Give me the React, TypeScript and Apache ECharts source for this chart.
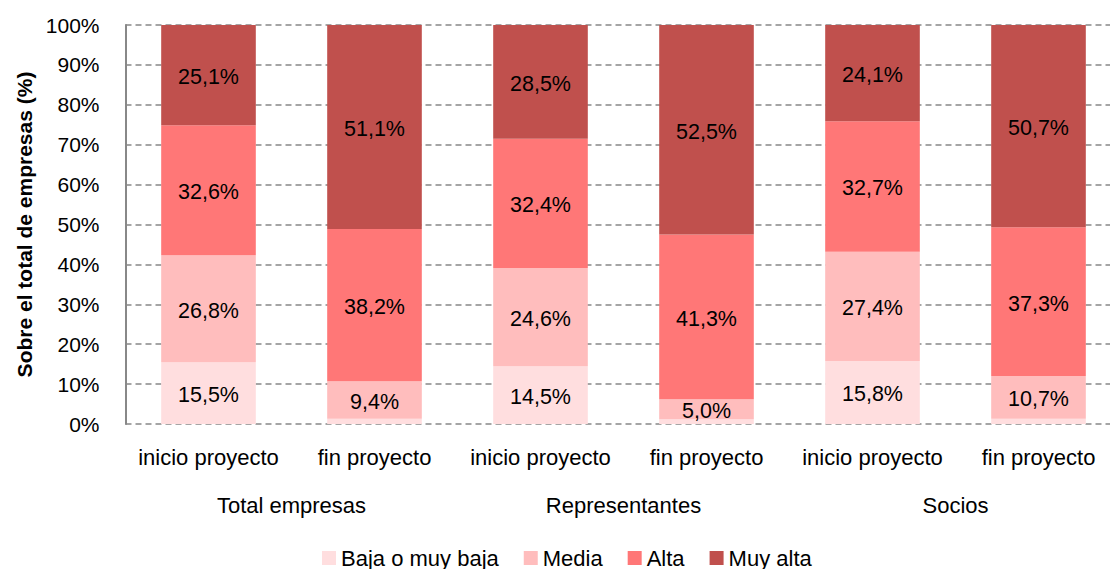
import React, { useEffect, useRef } from "react";
import * as echarts from "echarts";

const categories = ["inicio proyecto", "fin proyecto", "inicio proyecto", "fin proyecto", "inicio proyecto", "fin proyecto"];
const groups = ["Total empresas", "Representantes", "Socios"];
const bajaValues = [15.5, 1.3, 14.5, 1.2, 15.8, 1.3];
const mediaValues = [26.8, 9.4, 24.6, 5.0, 27.4, 10.7];
const altaValues = [32.6, 38.2, 32.4, 41.3, 32.7, 37.3];
const muyAltaValues = [25.1, 51.1, 28.5, 52.5, 24.1, 50.7];
const seriesNames = ["Baja o muy baja", "Media", "Alta", "Muy alta"];
const colors = ["#FFDEDF", "#FFBDBD", "#FF7777", "#C0504D"];

const FONT = "'Liberation Sans', Arial, sans-serif";

export default function App() {
  const ref = useRef<HTMLDivElement>(null);
  useEffect(() => {
    if (!ref.current) return;
    const chart = echarts.init(ref.current, undefined, { renderer: "svg" });
    const all = [bajaValues, mediaValues, altaValues, muyAltaValues];
    const fmt = (v: number) => v.toFixed(1).replace(".", ",") + "%";
    chart.setOption({
      animation: false,
      textStyle: { fontFamily: FONT },
      grid: { left: 125.5, top: 25, right: 3.5, bottom: 145, containLabel: false },
      legend: {
        bottom: -5,
        left: 317,
        itemWidth: 14,
        itemHeight: 14,
        itemGap: 25,
        icon: "rect",
        textStyle: { fontFamily: FONT, fontSize: 22, color: "#000" },
        data: seriesNames,
      },
      xAxis: [
        {
          type: "category",
          data: categories,
          axisLine: { show: false },
          axisTick: { show: false },
          axisLabel: { fontFamily: FONT, fontSize: 22, color: "#000", margin: 22, interval: 0 },
        },
        {
          type: "category",
          data: groups,
          position: "bottom",
          offset: 48,
          axisLine: { show: false },
          axisTick: { show: false },
          axisLabel: { fontFamily: FONT, fontSize: 22, color: "#000", margin: 22, interval: 0 },
        },
      ],
      yAxis: {
        type: "value",
        min: 0,
        max: 100,
        interval: 10,
        name: "Sobre el total de empresas (%)",
        nameLocation: "middle",
        nameGap: 91,
        nameRotate: 90,
        nameTextStyle: { fontFamily: FONT, fontSize: 21, fontWeight: "bold", color: "#000" },
        axisLine: { show: true, lineStyle: { color: "#888", width: 2 } },
        axisTick: { show: false },
        axisLabel: { formatter: "{value}%", fontFamily: FONT, fontSize: 21, color: "#000", margin: 26 },
        splitLine: { show: true, lineStyle: { color: "#888", type: [6, 4], width: 1.5 } },
      },
      series: all.map((vals, i) => ({
        name: seriesNames[i],
        type: "bar",
        stack: "total",
        barWidth: "57%",
        xAxisIndex: 0,
        itemStyle: { color: colors[i] },
        label: {
          show: true,
          position: "inside",
          offset: [0, 2],
          color: "#000",
          fontFamily: FONT,
          fontSize: 21.5,
          formatter: (p: any) => (p.value < 3 ? "" : fmt(p.value)),
        },
        data: vals,
      })),
    });
    return () => chart.dispose();
  }, []);
  return (
    <div style={{ width: 1110, height: 569, position: "absolute", left: 0, top: 0, overflow: "hidden" }}>
      <div ref={ref} style={{ width: 1125, height: 569 }} />
    </div>
  );
}
